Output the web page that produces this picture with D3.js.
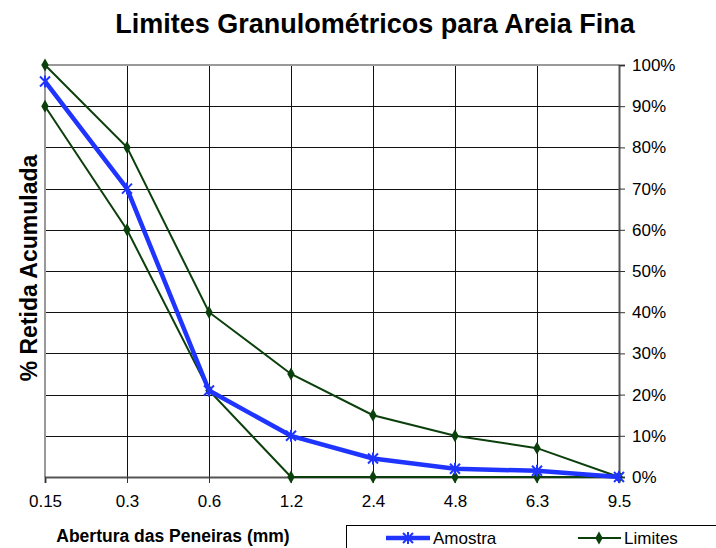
<!DOCTYPE html>
<html>
<head>
<meta charset="utf-8">
<script src="https://cdn.jsdelivr.net/npm/d3@7"></script>
<style>
  body { margin: 0; background: #fff; }
  svg { display: block; font-family: "Liberation Sans", Arial, sans-serif; }
</style>
</head>
<body>
<svg width="716" height="548"></svg>
<script>
// sieve openings and cumulative retained %
var sieves = ["0.15", "0.3", "0.6", "1.2", "2.4", "4.8", "6.3", "9.5"];
var amostra = [96, 70, 21, 10, 4.5, 2, 1.5, 0];
var limiteSup = [100, 80, 40, 25, 15, 10, 7, 0];
var limiteInf = [90, 60, 21, 0, 0, 0, 0, 0];
var yTicks = [0, 10, 20, 30, 40, 50, 60, 70, 80, 90, 100];

var svg = d3.select("svg"),
    plotLeft = 45, plotRight = 619, plotTop = 65, plotBottom = 477;

var xScale = d3.scalePoint().domain(sieves).range([plotLeft, plotRight]).padding(0),
    yScale = d3.scaleLinear().domain([0, 100]).range([plotBottom, plotTop]);

var green = "#0b3f0b", blue = "#1f35ff";

// gridlines
svg.append("g").selectAll("line").data(yTicks.slice(1, 10)).enter().append("line")
   .attr("x1", plotLeft).attr("x2", plotRight)
   .attr("y1", function(d) { return Math.round(yScale(d)) + 0.5; })
   .attr("y2", function(d) { return Math.round(yScale(d)) + 0.5; })
   .attr("stroke", "#111").attr("stroke-width", 1);
svg.append("g").selectAll("line").data(sieves.slice(1, 7)).enter().append("line")
   .attr("x1", function(d) { return Math.round(xScale(d)) + 0.5; })
   .attr("x2", function(d) { return Math.round(xScale(d)) + 0.5; })
   .attr("y1", plotTop).attr("y2", plotBottom)
   .attr("stroke", "#111").attr("stroke-width", 1);

// plot border (top and left)
svg.append("line").attr("x1", plotLeft).attr("x2", plotRight).attr("y1", plotTop).attr("y2", plotTop)
   .attr("stroke", "#999").attr("stroke-width", 2);
svg.append("line").attr("x1", plotLeft).attr("x2", plotLeft).attr("y1", plotTop).attr("y2", plotBottom)
   .attr("stroke", "#999").attr("stroke-width", 2);

// right y-axis
var yAxis = d3.axisRight(yScale).tickValues(yTicks).tickSize(6).tickPadding(7)
              .tickFormat(function(d) { return d + "%"; });
var yG = svg.append("g").attr("transform", "translate(" + plotRight + ",0)").call(yAxis);
yG.select(".domain").attr("stroke", "#555").attr("stroke-width", 2);
yG.selectAll(".tick line").attr("stroke", "#333");
yG.selectAll("text").attr("font-size", 17).attr("fill", "#000")
  .attr("font-family", "Liberation Sans, Arial, sans-serif");

// bottom x-axis
var xAxis = d3.axisBottom(xScale).tickSize(6).tickPadding(12);
var xG = svg.append("g").attr("transform", "translate(0," + plotBottom + ")").call(xAxis);
xG.select(".domain").attr("stroke", "#555").attr("stroke-width", 2);
xG.selectAll(".tick line").attr("stroke", "#333");
xG.selectAll("text").attr("font-size", 17).attr("fill", "#000")
  .attr("font-family", "Liberation Sans, Arial, sans-serif");

var line = d3.line()
    .x(function(d, i) { return xScale(sieves[i]); })
    .y(function(d) { return yScale(d); });

var diamond = d3.symbol().type(d3.symbolDiamond).size(48);

function drawLimit(vals) {
    svg.append("path").datum(vals).attr("d", line)
       .attr("fill", "none").attr("stroke", green).attr("stroke-width", 2);
    svg.append("g").selectAll("path").data(vals).enter().append("path")
       .attr("d", diamond).attr("fill", green)
       .attr("transform", function(d, i) {
           return "translate(" + xScale(sieves[i]) + "," + yScale(d) + ")";
       });
}
drawLimit(limiteSup);
drawLimit(limiteInf);

// asterisk marker
function star(g, x, y) {
    var s = 5;
    g.append("path")
     .attr("d", "M" + (x - s) + "," + (y - s) + "L" + (x + s) + "," + (y + s) +
                "M" + (x - s) + "," + (y + s) + "L" + (x + s) + "," + (y - s) +
                "M" + x + "," + (y - s - 1) + "L" + x + "," + (y + s + 1))
     .attr("stroke", blue).attr("stroke-width", 2).attr("fill", "none");
}

svg.append("path").datum(amostra).attr("d", line)
   .attr("fill", "none").attr("stroke", blue).attr("stroke-width", 4.5)
   .attr("stroke-linejoin", "round");
var starG = svg.append("g");
amostra.forEach(function(d, i) { star(starG, xScale(sieves[i]), yScale(d)); });

// titles
svg.append("text").attr("x", 375).attr("y", 33).attr("text-anchor", "middle")
   .attr("font-size", 27).attr("font-weight", "bold")
   .text("Limites Granulométricos para Areia Fina");

svg.append("text").attr("transform", "translate(37,268) rotate(-90)")
   .attr("text-anchor", "middle").attr("font-size", 23).attr("font-weight", "bold")
   .text("% Retida Acumulada");

svg.append("text").attr("x", 173).attr("y", 542).attr("text-anchor", "middle")
   .attr("font-size", 17.5).attr("font-weight", "bold")
   .text("Abertura das Peneiras (mm)");

// legend
svg.append("rect").attr("x", 346.5).attr("y", 525.5).attr("width", 400).attr("height", 40)
   .attr("fill", "#fff").attr("stroke", "#000").attr("stroke-width", 1);

var ly = 538;
svg.append("line").attr("x1", 386).attr("x2", 430).attr("y1", ly).attr("y2", ly)
   .attr("stroke", blue).attr("stroke-width", 4.5);
star(svg, 408, ly);
svg.append("text").attr("x", 433).attr("y", ly + 6).attr("font-size", 17).text("Amostra");

svg.append("line").attr("x1", 578).attr("x2", 621).attr("y1", ly).attr("y2", ly)
   .attr("stroke", green).attr("stroke-width", 2);
svg.append("path").attr("d", diamond).attr("fill", green)
   .attr("transform", "translate(599," + ly + ")");
svg.append("text").attr("x", 624).attr("y", ly + 6).attr("font-size", 17).text("Limites");
</script>
</body>
</html>
